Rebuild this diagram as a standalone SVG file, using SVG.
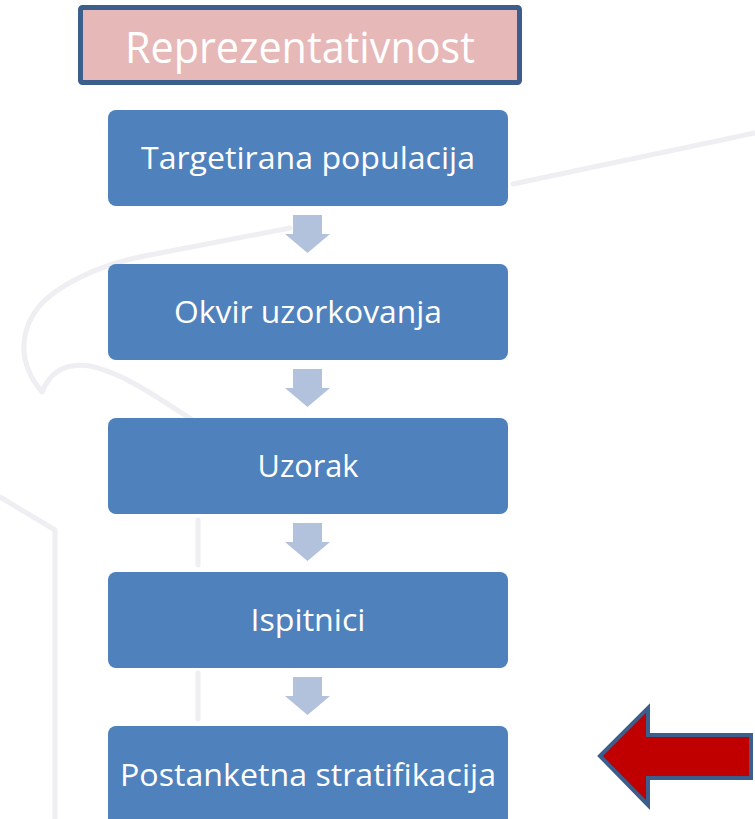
<svg xmlns="http://www.w3.org/2000/svg" width="755" height="819" viewBox="0 0 755 819">
<style>
.wm{fill:none;stroke:#eeeef3;stroke-width:5;stroke-linecap:round;stroke-linejoin:round}
.box{fill:#4f81bd}
.lbl{font-family:"Open Sans","Noto Sans","Liberation Sans",sans-serif;fill:#ffffff;text-anchor:middle}
.arr{fill:#b3c2dc}
</style>
<rect width="755" height="819" fill="#ffffff"/>
<g id="watermark">
<path class="wm" d="M513,184 L755,133"/>
<path class="wm" d="M290,228 L150,255 C110,262 70,278 45,300 C20,325 15,360 42,392 C50,372 65,362 90,366 C120,372 150,392 200,425"/>
<path class="wm" d="M0,497 L55,530 L55,819"/>
<path class="wm" d="M198,520 L198,565"/>
<path class="wm" d="M198,673 L198,719"/>
</g>
<g id="title">
<rect x="80.5" y="7.5" width="439" height="75" rx="2" fill="#e6b8b7" stroke="#3b5e8c" stroke-width="5"/>
<text class="lbl" x="300" y="63" font-size="43" textLength="350" lengthAdjust="spacingAndGlyphs">Reprezentativnost</text>
</g>
<g id="connectors">
<path class="arr" d="M293,215 H322 V234 H330 L307.5,253 L285,234 H293 Z"/>
<path class="arr" d="M293,369 H322 V388 H330 L307.5,407 L285,388 H293 Z"/>
<path class="arr" d="M293,523 H322 V542 H330 L307.5,561 L285,542 H293 Z"/>
<path class="arr" d="M293,677 H322 V696 H330 L307.5,715 L285,696 H293 Z"/>
</g>
<g id="n1">
<rect class="box" x="108" y="110" width="400" height="96" rx="8"/>
<text class="lbl" x="308" y="169" font-size="31" textLength="334" lengthAdjust="spacingAndGlyphs">Targetirana populacija</text>
</g>
<g id="n2">
<rect class="box" x="108" y="264" width="400" height="96" rx="8"/>
<text class="lbl" x="308" y="323" font-size="31" textLength="268" lengthAdjust="spacingAndGlyphs">Okvir uzorkovanja</text>
</g>
<g id="n3">
<rect class="box" x="108" y="418" width="400" height="96" rx="8"/>
<text class="lbl" x="308" y="477" font-size="31" textLength="101" lengthAdjust="spacingAndGlyphs">Uzorak</text>
</g>
<g id="n4">
<rect class="box" x="108" y="572" width="400" height="96" rx="8"/>
<text class="lbl" x="308" y="631" font-size="31" textLength="115" lengthAdjust="spacingAndGlyphs">Ispitnici</text>
</g>
<g id="n5">
<rect class="box" x="108" y="726" width="400" height="100" rx="8"/>
<text class="lbl" x="308" y="786" font-size="31" textLength="376" lengthAdjust="spacingAndGlyphs">Postanketna stratifikacija</text>
</g>
<g id="pointer">
<path d="M600,756 L648,708 V735 H751 V778 H648 V805 Z" fill="#c00000" stroke="#3b5e8c" stroke-width="4" stroke-linejoin="miter"/>
</g>
</svg>
